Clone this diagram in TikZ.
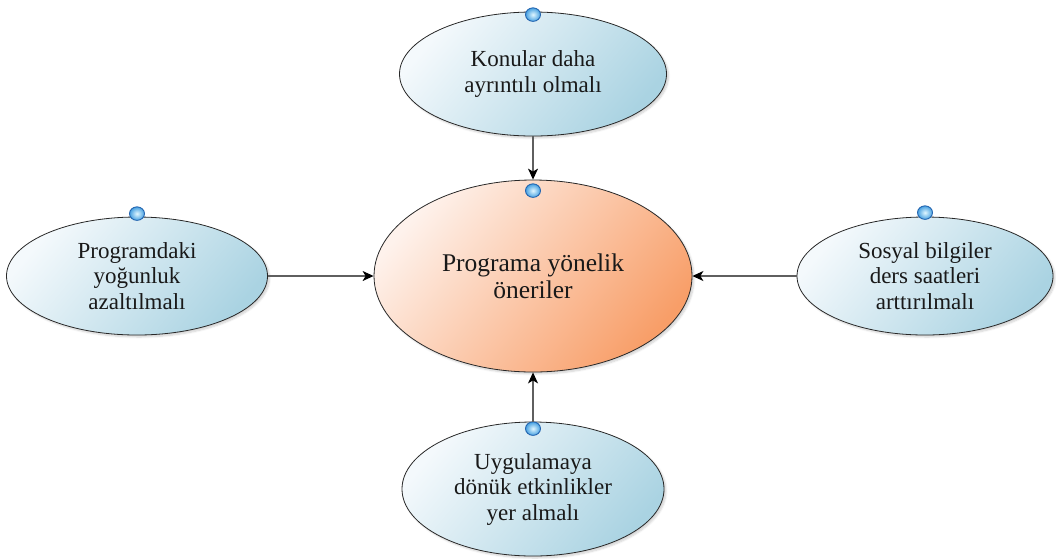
\documentclass[tikz,border=0pt]{standalone}
\usepackage{fontspec}
\setmainfont{Liberation Serif}
\usetikzlibrary{shapes.geometric,arrows.meta,shadows.blur}

\definecolor{bluelight}{RGB}{244,249,252}
\definecolor{bluedark}{RGB}{170,211,226}
\definecolor{orangelight}{RGB}{254,242,236}
\definecolor{orangedark}{RGB}{248,158,104}
\definecolor{rimcolor}{RGB}{40,40,40}
\definecolor{linkgray}{RGB}{95,95,95}
\definecolor{balledge}{RGB}{35,100,175}
\definecolor{ballinner}{RGB}{225,247,255}
\definecolor{ballouter}{RGB}{70,160,225}

\tikzset{
  idea/.style={ellipse, draw=rimcolor, line width=0.8pt, inner sep=0pt,
    left color=bluelight, right color=bluedark, shading angle=50,
    blur shadow={shadow xshift=2pt, shadow yshift=-2pt, shadow blur steps=6, shadow opacity=18},
    align=center, text=black!90, font=\fontsize{23}{25.5}\selectfont},
  hub/.style={ellipse, draw=rimcolor, line width=0.8pt, inner sep=0pt,
    left color=orangelight, right color=orangedark, shading angle=50,
    blur shadow={shadow xshift=2pt, shadow yshift=-2pt, shadow blur steps=6, shadow opacity=18},
    align=center, text=black!90, font=\fontsize{25.5}{27}\selectfont},
  link/.style={draw=linkgray, line width=1.3pt,
    -{Stealth[length=11pt,width=10pt,inset=3pt,black]}},
  knob/.style={ellipse, minimum width=15pt, minimum height=13.5pt, inner sep=0pt,
    draw=balledge, line width=0.9pt, inner color=ballinner, outer color=ballouter}
}

\begin{document}
\begin{tikzpicture}[x=1pt,y=-1pt]
  \useasboundingbox (0,0) rectangle (1056,558);

  % central topic
  \node[hub, minimum width=318pt, minimum height=192pt] (hub) at (533,276)
    {Programa yönelik\\öneriler};

  % surrounding suggestions
  \node[idea, minimum width=267pt, minimum height=124pt] (top) at (533,74)
    {Konular daha\\ayrıntılı olmalı};
  \node[idea, minimum width=261pt, minimum height=118pt] (left) at (137,276)
    {Programdaki\\yoğunluk\\azaltılmalı};
  \node[idea, minimum width=256pt, minimum height=118pt] (right) at (925,276)
    {Sosyal bilgiler\\ders saatleri\\arttırılmalı};
  \node[idea, minimum width=262pt, minimum height=134pt] (bottom) at (533,489)
    {Uygulamaya\\dönük etkinlikler\\yer almalı};

  % connection knobs on top of each shape
  \node[knob] (khub) at ([yshift=-11pt]hub.north) {};
  \node[knob] (ktop) at ([yshift=-3pt]top.north) {};
  \node[knob] (kleft) at ([yshift=3pt]left.north) {};
  \node[knob] (kright) at ([yshift=4pt]right.north) {};
  \node[knob] (kbottom) at ([yshift=-7pt]bottom.north) {};

  % links into the central topic
  \draw[link] (top.south) -- (hub.north);
  \draw[link] (bottom.north) -- (hub.south);
  \draw[link] (left.east) -- (hub.west);
  \draw[link] (right.west) -- (hub.east);
\end{tikzpicture}
\end{document}
